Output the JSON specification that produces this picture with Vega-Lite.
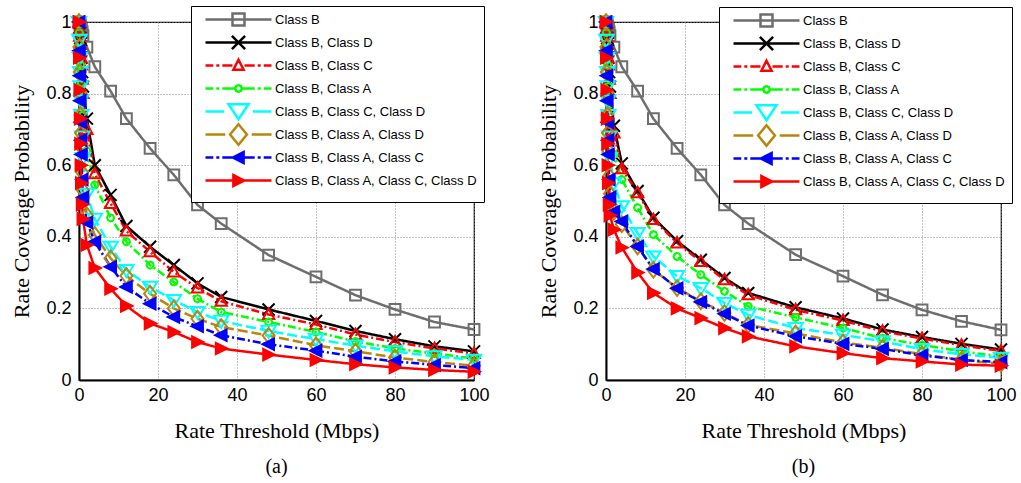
{
 "$schema": "https://vega.github.io/schema/vega-lite/v6.json",
 "background": "white",
 "padding": {"left": 10, "top": 4, "right": 0, "bottom": 0},
 "spacing": 132,
 "bounds": "flush",
 "resolve": {"scale": {"stroke": "independent", "shape": "independent", "strokeDash": "independent", "fill": "independent"}, "legend": {"stroke": "independent", "shape": "independent", "strokeDash": "independent", "fill": "independent"}},
 "datasets": {
  "a": [
   {"series":"Class B","x":0,"y":1},{"series":"Class B","x":0.1,"y":0.998},{"series":"Class B","x":0.2,"y":0.995},{"series":"Class B","x":0.3,"y":0.992},{"series":"Class B","x":0.4,"y":0.988},{"series":"Class B","x":0.5,"y":0.984},{"series":"Class B","x":0.6,"y":0.98},{"series":"Class B","x":0.8,"y":0.972},{"series":"Class B","x":1,"y":0.962},{"series":"Class B","x":2,"y":0.93},{"series":"Class B","x":4,"y":0.875},{"series":"Class B","x":8,"y":0.807},{"series":"Class B","x":12,"y":0.73},{"series":"Class B","x":18,"y":0.647},{"series":"Class B","x":24,"y":0.573},{"series":"Class B","x":30,"y":0.489},{"series":"Class B","x":36,"y":0.437},{"series":"Class B","x":48,"y":0.349},{"series":"Class B","x":60,"y":0.288},{"series":"Class B","x":70,"y":0.237},{"series":"Class B","x":80,"y":0.197},{"series":"Class B","x":90,"y":0.162},{"series":"Class B","x":100,"y":0.141},
   {"series":"Class B, Class D","x":0,"y":1},{"series":"Class B, Class D","x":0.1,"y":0.985},{"series":"Class B, Class D","x":0.2,"y":0.97},{"series":"Class B, Class D","x":0.3,"y":0.955},{"series":"Class B, Class D","x":0.4,"y":0.94},{"series":"Class B, Class D","x":0.5,"y":0.92},{"series":"Class B, Class D","x":0.6,"y":0.9},{"series":"Class B, Class D","x":0.8,"y":0.86},{"series":"Class B, Class D","x":1,"y":0.82},{"series":"Class B, Class D","x":2,"y":0.73},{"series":"Class B, Class D","x":4,"y":0.6},{"series":"Class B, Class D","x":8,"y":0.517},{"series":"Class B, Class D","x":12,"y":0.43},{"series":"Class B, Class D","x":18,"y":0.372},{"series":"Class B, Class D","x":24,"y":0.321},{"series":"Class B, Class D","x":30,"y":0.27},{"series":"Class B, Class D","x":36,"y":0.232},{"series":"Class B, Class D","x":48,"y":0.197},{"series":"Class B, Class D","x":60,"y":0.165},{"series":"Class B, Class D","x":70,"y":0.137},{"series":"Class B, Class D","x":80,"y":0.114},{"series":"Class B, Class D","x":90,"y":0.094},{"series":"Class B, Class D","x":100,"y":0.08},
   {"series":"Class B, Class C","x":0,"y":1},{"series":"Class B, Class C","x":0.1,"y":0.98},{"series":"Class B, Class C","x":0.2,"y":0.96},{"series":"Class B, Class C","x":0.3,"y":0.94},{"series":"Class B, Class C","x":0.4,"y":0.92},{"series":"Class B, Class C","x":0.5,"y":0.9},{"series":"Class B, Class C","x":0.6,"y":0.88},{"series":"Class B, Class C","x":0.8,"y":0.84},{"series":"Class B, Class C","x":1,"y":0.8},{"series":"Class B, Class C","x":2,"y":0.7},{"series":"Class B, Class C","x":4,"y":0.576},{"series":"Class B, Class C","x":8,"y":0.493},{"series":"Class B, Class C","x":12,"y":0.416},{"series":"Class B, Class C","x":18,"y":0.358},{"series":"Class B, Class C","x":24,"y":0.302},{"series":"Class B, Class C","x":30,"y":0.257},{"series":"Class B, Class C","x":36,"y":0.22},{"series":"Class B, Class C","x":48,"y":0.183},{"series":"Class B, Class C","x":60,"y":0.155},{"series":"Class B, Class C","x":70,"y":0.127},{"series":"Class B, Class C","x":80,"y":0.106},{"series":"Class B, Class C","x":90,"y":0.088},{"series":"Class B, Class C","x":100,"y":0.074},
   {"series":"Class B, Class A","x":0,"y":1},{"series":"Class B, Class A","x":0.1,"y":0.97},{"series":"Class B, Class A","x":0.2,"y":0.94},{"series":"Class B, Class A","x":0.3,"y":0.91},{"series":"Class B, Class A","x":0.4,"y":0.88},{"series":"Class B, Class A","x":0.5,"y":0.86},{"series":"Class B, Class A","x":0.6,"y":0.83},{"series":"Class B, Class A","x":0.8,"y":0.78},{"series":"Class B, Class A","x":1,"y":0.74},{"series":"Class B, Class A","x":2,"y":0.64},{"series":"Class B, Class A","x":4,"y":0.545},{"series":"Class B, Class A","x":8,"y":0.453},{"series":"Class B, Class A","x":12,"y":0.386},{"series":"Class B, Class A","x":18,"y":0.321},{"series":"Class B, Class A","x":24,"y":0.274},{"series":"Class B, Class A","x":30,"y":0.227},{"series":"Class B, Class A","x":36,"y":0.19},{"series":"Class B, Class A","x":48,"y":0.162},{"series":"Class B, Class A","x":60,"y":0.134},{"series":"Class B, Class A","x":70,"y":0.108},{"series":"Class B, Class A","x":80,"y":0.088},{"series":"Class B, Class A","x":90,"y":0.074},{"series":"Class B, Class A","x":100,"y":0.06},
   {"series":"Class B, Class C, Class D","x":0,"y":1},{"series":"Class B, Class C, Class D","x":0.1,"y":0.95},{"series":"Class B, Class C, Class D","x":0.2,"y":0.9},{"series":"Class B, Class C, Class D","x":0.3,"y":0.86},{"series":"Class B, Class C, Class D","x":0.4,"y":0.82},{"series":"Class B, Class C, Class D","x":0.5,"y":0.78},{"series":"Class B, Class C, Class D","x":0.6,"y":0.74},{"series":"Class B, Class C, Class D","x":0.8,"y":0.68},{"series":"Class B, Class C, Class D","x":1,"y":0.62},{"series":"Class B, Class C, Class D","x":2,"y":0.52},{"series":"Class B, Class C, Class D","x":4,"y":0.45},{"series":"Class B, Class C, Class D","x":8,"y":0.372},{"series":"Class B, Class C, Class D","x":12,"y":0.307},{"series":"Class B, Class C, Class D","x":18,"y":0.26},{"series":"Class B, Class C, Class D","x":24,"y":0.223},{"series":"Class B, Class C, Class D","x":30,"y":0.19},{"series":"Class B, Class C, Class D","x":36,"y":0.165},{"series":"Class B, Class C, Class D","x":48,"y":0.137},{"series":"Class B, Class C, Class D","x":60,"y":0.114},{"series":"Class B, Class C, Class D","x":70,"y":0.096},{"series":"Class B, Class C, Class D","x":80,"y":0.08},{"series":"Class B, Class C, Class D","x":90,"y":0.066},{"series":"Class B, Class C, Class D","x":100,"y":0.056},
   {"series":"Class B, Class A, Class D","x":0,"y":1},{"series":"Class B, Class A, Class D","x":0.1,"y":0.93},{"series":"Class B, Class A, Class D","x":0.2,"y":0.86},{"series":"Class B, Class A, Class D","x":0.3,"y":0.8},{"series":"Class B, Class A, Class D","x":0.4,"y":0.74},{"series":"Class B, Class A, Class D","x":0.5,"y":0.69},{"series":"Class B, Class A, Class D","x":0.6,"y":0.65},{"series":"Class B, Class A, Class D","x":0.8,"y":0.58},{"series":"Class B, Class A, Class D","x":1,"y":0.53},{"series":"Class B, Class A, Class D","x":2,"y":0.46},{"series":"Class B, Class A, Class D","x":4,"y":0.405},{"series":"Class B, Class A, Class D","x":8,"y":0.34},{"series":"Class B, Class A, Class D","x":12,"y":0.291},{"series":"Class B, Class A, Class D","x":18,"y":0.241},{"series":"Class B, Class A, Class D","x":24,"y":0.2},{"series":"Class B, Class A, Class D","x":30,"y":0.171},{"series":"Class B, Class A, Class D","x":36,"y":0.148},{"series":"Class B, Class A, Class D","x":48,"y":0.124},{"series":"Class B, Class A, Class D","x":60,"y":0.097},{"series":"Class B, Class A, Class D","x":70,"y":0.08},{"series":"Class B, Class A, Class D","x":80,"y":0.063},{"series":"Class B, Class A, Class D","x":90,"y":0.05},{"series":"Class B, Class A, Class D","x":100,"y":0.04},
   {"series":"Class B, Class A, Class C","x":0,"y":1},{"series":"Class B, Class A, Class C","x":0.1,"y":0.92},{"series":"Class B, Class A, Class C","x":0.2,"y":0.85},{"series":"Class B, Class A, Class C","x":0.3,"y":0.78},{"series":"Class B, Class A, Class C","x":0.4,"y":0.72},{"series":"Class B, Class A, Class C","x":0.5,"y":0.67},{"series":"Class B, Class A, Class C","x":0.6,"y":0.63},{"series":"Class B, Class A, Class C","x":0.8,"y":0.56},{"series":"Class B, Class A, Class C","x":1,"y":0.51},{"series":"Class B, Class A, Class C","x":2,"y":0.44},{"series":"Class B, Class A, Class C","x":4,"y":0.386},{"series":"Class B, Class A, Class C","x":8,"y":0.316},{"series":"Class B, Class A, Class C","x":12,"y":0.26},{"series":"Class B, Class A, Class C","x":18,"y":0.213},{"series":"Class B, Class A, Class C","x":24,"y":0.176},{"series":"Class B, Class A, Class C","x":30,"y":0.15},{"series":"Class B, Class A, Class C","x":36,"y":0.125},{"series":"Class B, Class A, Class C","x":48,"y":0.1},{"series":"Class B, Class A, Class C","x":60,"y":0.082},{"series":"Class B, Class A, Class C","x":70,"y":0.065},{"series":"Class B, Class A, Class C","x":80,"y":0.052},{"series":"Class B, Class A, Class C","x":90,"y":0.042},{"series":"Class B, Class A, Class C","x":100,"y":0.033},
   {"series":"Class B, Class A, Class C, Class D","x":0,"y":1},{"series":"Class B, Class A, Class C, Class D","x":0.1,"y":0.9},{"series":"Class B, Class A, Class C, Class D","x":0.2,"y":0.81},{"series":"Class B, Class A, Class C, Class D","x":0.3,"y":0.73},{"series":"Class B, Class A, Class C, Class D","x":0.4,"y":0.66},{"series":"Class B, Class A, Class C, Class D","x":0.5,"y":0.6},{"series":"Class B, Class A, Class C, Class D","x":0.6,"y":0.55},{"series":"Class B, Class A, Class C, Class D","x":0.8,"y":0.49},{"series":"Class B, Class A, Class C, Class D","x":1,"y":0.45},{"series":"Class B, Class A, Class C, Class D","x":2,"y":0.377},{"series":"Class B, Class A, Class C, Class D","x":4,"y":0.313},{"series":"Class B, Class A, Class C, Class D","x":8,"y":0.255},{"series":"Class B, Class A, Class C, Class D","x":12,"y":0.207},{"series":"Class B, Class A, Class C, Class D","x":18,"y":0.158},{"series":"Class B, Class A, Class C, Class D","x":24,"y":0.134},{"series":"Class B, Class A, Class C, Class D","x":30,"y":0.106},{"series":"Class B, Class A, Class C, Class D","x":36,"y":0.088},{"series":"Class B, Class A, Class C, Class D","x":48,"y":0.071},{"series":"Class B, Class A, Class C, Class D","x":60,"y":0.056},{"series":"Class B, Class A, Class C, Class D","x":70,"y":0.044},{"series":"Class B, Class A, Class C, Class D","x":80,"y":0.035},{"series":"Class B, Class A, Class C, Class D","x":90,"y":0.028},{"series":"Class B, Class A, Class C, Class D","x":100,"y":0.023}
  ],
  "b": [
   {"series":"Class B","x":0,"y":1},{"series":"Class B","x":0.1,"y":0.998},{"series":"Class B","x":0.2,"y":0.995},{"series":"Class B","x":0.3,"y":0.992},{"series":"Class B","x":0.4,"y":0.988},{"series":"Class B","x":0.5,"y":0.984},{"series":"Class B","x":0.6,"y":0.98},{"series":"Class B","x":0.8,"y":0.972},{"series":"Class B","x":1,"y":0.962},{"series":"Class B","x":2,"y":0.93},{"series":"Class B","x":4,"y":0.875},{"series":"Class B","x":8,"y":0.807},{"series":"Class B","x":12,"y":0.73},{"series":"Class B","x":18,"y":0.647},{"series":"Class B","x":24,"y":0.573},{"series":"Class B","x":30,"y":0.489},{"series":"Class B","x":36,"y":0.437},{"series":"Class B","x":48,"y":0.35},{"series":"Class B","x":60,"y":0.29},{"series":"Class B","x":70,"y":0.238},{"series":"Class B","x":80,"y":0.196},{"series":"Class B","x":90,"y":0.164},{"series":"Class B","x":100,"y":0.14},
   {"series":"Class B, Class D","x":0,"y":1},{"series":"Class B, Class D","x":0.1,"y":0.985},{"series":"Class B, Class D","x":0.2,"y":0.97},{"series":"Class B, Class D","x":0.3,"y":0.955},{"series":"Class B, Class D","x":0.4,"y":0.94},{"series":"Class B, Class D","x":0.5,"y":0.92},{"series":"Class B, Class D","x":0.6,"y":0.9},{"series":"Class B, Class D","x":0.8,"y":0.86},{"series":"Class B, Class D","x":1,"y":0.82},{"series":"Class B, Class D","x":2,"y":0.71},{"series":"Class B, Class D","x":4,"y":0.605},{"series":"Class B, Class D","x":8,"y":0.528},{"series":"Class B, Class D","x":12,"y":0.453},{"series":"Class B, Class D","x":18,"y":0.388},{"series":"Class B, Class D","x":24,"y":0.336},{"series":"Class B, Class D","x":30,"y":0.285},{"series":"Class B, Class D","x":36,"y":0.243},{"series":"Class B, Class D","x":48,"y":0.203},{"series":"Class B, Class D","x":60,"y":0.172},{"series":"Class B, Class D","x":70,"y":0.141},{"series":"Class B, Class D","x":80,"y":0.12},{"series":"Class B, Class D","x":90,"y":0.101},{"series":"Class B, Class D","x":100,"y":0.085},
   {"series":"Class B, Class C","x":0,"y":1},{"series":"Class B, Class C","x":0.1,"y":0.98},{"series":"Class B, Class C","x":0.2,"y":0.96},{"series":"Class B, Class C","x":0.3,"y":0.94},{"series":"Class B, Class C","x":0.4,"y":0.92},{"series":"Class B, Class C","x":0.5,"y":0.9},{"series":"Class B, Class C","x":0.6,"y":0.88},{"series":"Class B, Class C","x":0.8,"y":0.84},{"series":"Class B, Class C","x":1,"y":0.8},{"series":"Class B, Class C","x":2,"y":0.69},{"series":"Class B, Class C","x":4,"y":0.59},{"series":"Class B, Class C","x":8,"y":0.523},{"series":"Class B, Class C","x":12,"y":0.448},{"series":"Class B, Class C","x":18,"y":0.383},{"series":"Class B, Class C","x":24,"y":0.331},{"series":"Class B, Class C","x":30,"y":0.28},{"series":"Class B, Class C","x":36,"y":0.238},{"series":"Class B, Class C","x":48,"y":0.196},{"series":"Class B, Class C","x":60,"y":0.166},{"series":"Class B, Class C","x":70,"y":0.136},{"series":"Class B, Class C","x":80,"y":0.116},{"series":"Class B, Class C","x":90,"y":0.097},{"series":"Class B, Class C","x":100,"y":0.081},
   {"series":"Class B, Class A","x":0,"y":1},{"series":"Class B, Class A","x":0.1,"y":0.97},{"series":"Class B, Class A","x":0.2,"y":0.94},{"series":"Class B, Class A","x":0.3,"y":0.91},{"series":"Class B, Class A","x":0.4,"y":0.88},{"series":"Class B, Class A","x":0.5,"y":0.85},{"series":"Class B, Class A","x":0.6,"y":0.82},{"series":"Class B, Class A","x":0.8,"y":0.77},{"series":"Class B, Class A","x":1,"y":0.72},{"series":"Class B, Class A","x":2,"y":0.63},{"series":"Class B, Class A","x":4,"y":0.56},{"series":"Class B, Class A","x":8,"y":0.481},{"series":"Class B, Class A","x":12,"y":0.406},{"series":"Class B, Class A","x":18,"y":0.345},{"series":"Class B, Class A","x":24,"y":0.294},{"series":"Class B, Class A","x":30,"y":0.248},{"series":"Class B, Class A","x":36,"y":0.206},{"series":"Class B, Class A","x":48,"y":0.175},{"series":"Class B, Class A","x":60,"y":0.145},{"series":"Class B, Class A","x":70,"y":0.117},{"series":"Class B, Class A","x":80,"y":0.098},{"series":"Class B, Class A","x":90,"y":0.08},{"series":"Class B, Class A","x":100,"y":0.066},
   {"series":"Class B, Class C, Class D","x":0,"y":1},{"series":"Class B, Class C, Class D","x":0.1,"y":0.95},{"series":"Class B, Class C, Class D","x":0.2,"y":0.9},{"series":"Class B, Class C, Class D","x":0.3,"y":0.86},{"series":"Class B, Class C, Class D","x":0.4,"y":0.82},{"series":"Class B, Class C, Class D","x":0.5,"y":0.78},{"series":"Class B, Class C, Class D","x":0.6,"y":0.74},{"series":"Class B, Class C, Class D","x":0.8,"y":0.68},{"series":"Class B, Class C, Class D","x":1,"y":0.62},{"series":"Class B, Class C, Class D","x":2,"y":0.55},{"series":"Class B, Class C, Class D","x":4,"y":0.485},{"series":"Class B, Class C, Class D","x":8,"y":0.41},{"series":"Class B, Class C, Class D","x":12,"y":0.345},{"series":"Class B, Class C, Class D","x":18,"y":0.29},{"series":"Class B, Class C, Class D","x":24,"y":0.257},{"series":"Class B, Class C, Class D","x":30,"y":0.215},{"series":"Class B, Class C, Class D","x":36,"y":0.182},{"series":"Class B, Class C, Class D","x":48,"y":0.145},{"series":"Class B, Class C, Class D","x":60,"y":0.126},{"series":"Class B, Class C, Class D","x":70,"y":0.108},{"series":"Class B, Class C, Class D","x":80,"y":0.086},{"series":"Class B, Class C, Class D","x":90,"y":0.072},{"series":"Class B, Class C, Class D","x":100,"y":0.062},
   {"series":"Class B, Class A, Class D","x":0,"y":1},{"series":"Class B, Class A, Class D","x":0.1,"y":0.93},{"series":"Class B, Class A, Class D","x":0.2,"y":0.86},{"series":"Class B, Class A, Class D","x":0.3,"y":0.8},{"series":"Class B, Class A, Class D","x":0.4,"y":0.74},{"series":"Class B, Class A, Class D","x":0.5,"y":0.69},{"series":"Class B, Class A, Class D","x":0.6,"y":0.64},{"series":"Class B, Class A, Class D","x":0.8,"y":0.57},{"series":"Class B, Class A, Class D","x":1,"y":0.52},{"series":"Class B, Class A, Class D","x":2,"y":0.47},{"series":"Class B, Class A, Class D","x":4,"y":0.435},{"series":"Class B, Class A, Class D","x":8,"y":0.373},{"series":"Class B, Class A, Class D","x":12,"y":0.308},{"series":"Class B, Class A, Class D","x":18,"y":0.257},{"series":"Class B, Class A, Class D","x":24,"y":0.22},{"series":"Class B, Class A, Class D","x":30,"y":0.187},{"series":"Class B, Class A, Class D","x":36,"y":0.154},{"series":"Class B, Class A, Class D","x":48,"y":0.13},{"series":"Class B, Class A, Class D","x":60,"y":0.105},{"series":"Class B, Class A, Class D","x":70,"y":0.09},{"series":"Class B, Class A, Class D","x":80,"y":0.072},{"series":"Class B, Class A, Class D","x":90,"y":0.056},{"series":"Class B, Class A, Class D","x":100,"y":0.045},
   {"series":"Class B, Class A, Class C","x":0,"y":1},{"series":"Class B, Class A, Class C","x":0.1,"y":0.92},{"series":"Class B, Class A, Class C","x":0.2,"y":0.85},{"series":"Class B, Class A, Class C","x":0.3,"y":0.78},{"series":"Class B, Class A, Class C","x":0.4,"y":0.72},{"series":"Class B, Class A, Class C","x":0.5,"y":0.67},{"series":"Class B, Class A, Class C","x":0.6,"y":0.63},{"series":"Class B, Class A, Class C","x":0.8,"y":0.56},{"series":"Class B, Class A, Class C","x":1,"y":0.51},{"series":"Class B, Class A, Class C","x":2,"y":0.47},{"series":"Class B, Class A, Class C","x":4,"y":0.443},{"series":"Class B, Class A, Class C","x":8,"y":0.373},{"series":"Class B, Class A, Class C","x":12,"y":0.31},{"series":"Class B, Class A, Class C","x":18,"y":0.256},{"series":"Class B, Class A, Class C","x":24,"y":0.218},{"series":"Class B, Class A, Class C","x":30,"y":0.185},{"series":"Class B, Class A, Class C","x":36,"y":0.152},{"series":"Class B, Class A, Class C","x":48,"y":0.122},{"series":"Class B, Class A, Class C","x":60,"y":0.101},{"series":"Class B, Class A, Class C","x":70,"y":0.087},{"series":"Class B, Class A, Class C","x":80,"y":0.069},{"series":"Class B, Class A, Class C","x":90,"y":0.056},{"series":"Class B, Class A, Class C","x":100,"y":0.05},
   {"series":"Class B, Class A, Class C, Class D","x":0,"y":1},{"series":"Class B, Class A, Class C, Class D","x":0.1,"y":0.9},{"series":"Class B, Class A, Class C, Class D","x":0.2,"y":0.81},{"series":"Class B, Class A, Class C, Class D","x":0.3,"y":0.73},{"series":"Class B, Class A, Class C, Class D","x":0.4,"y":0.66},{"series":"Class B, Class A, Class C, Class D","x":0.5,"y":0.6},{"series":"Class B, Class A, Class C, Class D","x":0.6,"y":0.55},{"series":"Class B, Class A, Class C, Class D","x":0.8,"y":0.49},{"series":"Class B, Class A, Class C, Class D","x":1,"y":0.46},{"series":"Class B, Class A, Class C, Class D","x":2,"y":0.42},{"series":"Class B, Class A, Class C, Class D","x":4,"y":0.37},{"series":"Class B, Class A, Class C, Class D","x":8,"y":0.3},{"series":"Class B, Class A, Class C, Class D","x":12,"y":0.243},{"series":"Class B, Class A, Class C, Class D","x":18,"y":0.2},{"series":"Class B, Class A, Class C, Class D","x":24,"y":0.173},{"series":"Class B, Class A, Class C, Class D","x":30,"y":0.145},{"series":"Class B, Class A, Class C, Class D","x":36,"y":0.122},{"series":"Class B, Class A, Class C, Class D","x":48,"y":0.094},{"series":"Class B, Class A, Class C, Class D","x":60,"y":0.075},{"series":"Class B, Class A, Class C, Class D","x":70,"y":0.061},{"series":"Class B, Class A, Class C, Class D","x":80,"y":0.052},{"series":"Class B, Class A, Class C, Class D","x":90,"y":0.043},{"series":"Class B, Class A, Class C, Class D","x":100,"y":0.04}
  ]
 },
 "hconcat": [
  {
   "width": 395, "height": 358,
   "data": {"name": "a"},
   "title": {"text": "(a)", "orient": "bottom", "offset": 16},
   "encoding": {
    "x": {"field": "x", "type": "quantitative", "scale": {"domain": [0, 100], "nice": false, "zero": false}, "axis": {"values": [0, 20, 40, 60, 80, 100], "title": "Rate Threshold (Mbps)"}},
    "y": {"field": "y", "type": "quantitative", "scale": {"domain": [0, 1], "nice": false}, "axis": {"values": [0, 0.2, 0.4, 0.6, 0.8, 1], "format": "~g", "title": "Rate Coverage Probability"}},
    "stroke": {"field": "series", "type": "nominal", "sort": null,
     "scale": {"domain": ["Class B", "Class B, Class D", "Class B, Class C", "Class B, Class A", "Class B, Class C, Class D", "Class B, Class A, Class D", "Class B, Class A, Class C", "Class B, Class A, Class C, Class D"], "range": ["#6e6e6e", "#000000", "#ff0000", "#00ff00", "#00ffff", "#b8860b", "#0000ff", "#ff0000"]},
     "legend": {"orient": "none", "legendX": 112, "legendY": -16, "title": null, "direction": "vertical", "padding": 6, "symbolSize": 144, "symbolOffset": 34, "labelOffset": 29, "rowPadding": -12, "labelFont": "Liberation Sans", "labelFontSize": 13, "labelColor": "black", "labelLimit": 400, "strokeColor": "black", "fillColor": "white", "symbolStrokeWidth": 2.5,
      "encode": {"symbols": {"update": {
       "shape": {"signal": "datum.value === 'Class B' ? 'M-5.5,0H5.5M-1,-1H1V1H-1ZM0,-1.7V-1.7M0,1.7V1.7' : datum.value === 'Class B, Class D' ? 'M-5.5,0H5.5M-1.1,-1.1L1.1,1.1M-1.1,1.1L1.1,-1.1M0,-1.7V-1.7M0,1.7V1.7' : datum.value === 'Class B, Class C' ? 'M-5.5,0H-4.2M-3.7,0H-3.2M-2.7,0H-1M1,0H2.7M3.2,0H3.7M4.2,0H5.5M0,-0.95L0.85,0.7H-0.85ZM0,-1.7V-1.7M0,1.7V1.7' : datum.value === 'Class B, Class A' ? 'M-5.5,0H-4.2M-3.7,0H-3.2M-2.7,0H-0.6M0.6,0H2.7M3.2,0H3.7M4.2,0H5.5M0.55,0L0.39,0.39L0,0.55L-0.39,0.39L-0.55,0L-0.39,-0.39L0,-0.55L0.39,-0.39ZM0,-1.7V-1.7M0,1.7V1.7' : datum.value === 'Class B, Class C, Class D' ? 'M-5.5,0H-2.4M2.4,0H5.5M-1.67,-1.2H1.67L0,1.3ZM0,-1.7V-1.7M0,1.7V1.7' : datum.value === 'Class B, Class A, Class D' ? 'M-5.5,0H-2.2M2.2,0H5.5M0,-1.7L1.4,0L0,1.7L-1.4,0Z' : datum.value === 'Class B, Class A, Class C' ? 'M-5.5,0H-4.2M-3.7,0H-3.2M-2.7,0H-1M1,0H2.7M3.2,0H3.7M4.2,0H5.5M-0.95,0L0.85,-0.9V0.9ZM0,-1.7V-1.7M0,1.7V1.7' : 'M-5.5,0H5.5M0.95,0L-0.85,-0.9V0.9ZM0,-1.7V-1.7M0,1.7V1.7'"}
      }}}
     }
    }
   },
   "layer": [
    {"mark": {"type": "line", "strokeWidth": 2.5},
     "encoding": {"strokeDash": {"field": "series", "type": "nominal", "scale": {"domain": ["Class B, Class A, Class C, Class D", "Class B, Class A, Class C", "Class B, Class A, Class D", "Class B, Class C, Class D", "Class B, Class A", "Class B, Class C", "Class B, Class D", "Class B"], "range": [[1, 0], [8, 3, 2, 3], [10, 4], [10, 4], [8, 3, 2, 3], [8, 3, 2, 3], [1, 0], [1, 0]]}, "legend": null}}},
    {"mark": {"type": "point", "size": 144, "strokeWidth": 2, "opacity": 1},
     "encoding": {
      "shape": {"field": "series", "type": "nominal", "scale": {"domain": ["Class B, Class A, Class C, Class D", "Class B, Class A, Class C", "Class B, Class A, Class D", "Class B, Class C, Class D", "Class B, Class A", "Class B, Class C", "Class B, Class D", "Class B"], "range": ["M1,0L-0.9,-0.95V0.95Z", "M-1,0L0.9,-0.95V0.95Z", "M0,-1.3L1,0L0,1.3L-1,0Z", "M-1.2,-0.85H1.2L0,1.15Z", "M0.6,0L0.42,0.42L0,0.6L-0.42,0.42L-0.6,0L-0.42,-0.42L0,-0.6L0.42,-0.42Z", "M0,-1L0.95,0.75H-0.95Z", "M-1,-1L1,1M-1,1L1,-1", "M-0.9,-0.9H0.9V0.9H-0.9Z"]}, "legend": null},
      "fill": {"field": "series", "type": "nominal", "scale": {"domain": ["Class B", "Class B, Class D", "Class B, Class C", "Class B, Class A", "Class B, Class C, Class D", "Class B, Class A, Class D", "Class B, Class A, Class C", "Class B, Class A, Class C, Class D"], "range": ["transparent", "transparent", "transparent", "transparent", "transparent", "transparent", "#0000ff", "#ff0000"]}, "legend": null}
     }}
   ]
  },
  {
   "width": 395, "height": 358,
   "data": {"name": "b"},
   "title": {"text": "(b)", "orient": "bottom", "offset": 16},
   "encoding": {
    "x": {"field": "x", "type": "quantitative", "scale": {"domain": [0, 100], "nice": false, "zero": false}, "axis": {"values": [0, 20, 40, 60, 80, 100], "title": "Rate Threshold (Mbps)"}},
    "y": {"field": "y", "type": "quantitative", "scale": {"domain": [0, 1], "nice": false}, "axis": {"values": [0, 0.2, 0.4, 0.6, 0.8, 1], "format": "~g", "title": "Rate Coverage Probability"}},
    "stroke": {"field": "series", "type": "nominal", "sort": null,
     "scale": {"domain": ["Class B", "Class B, Class D", "Class B, Class C", "Class B, Class A", "Class B, Class C, Class D", "Class B, Class A, Class D", "Class B, Class A, Class C", "Class B, Class A, Class C, Class D"], "range": ["#6e6e6e", "#000000", "#ff0000", "#00ff00", "#00ffff", "#b8860b", "#0000ff", "#ff0000"]},
     "legend": {"orient": "none", "legendX": 113, "legendY": -15, "title": null, "direction": "vertical", "padding": 6, "symbolSize": 144, "symbolOffset": 34, "labelOffset": 29, "rowPadding": -12, "labelFont": "Liberation Sans", "labelFontSize": 13, "labelColor": "black", "labelLimit": 400, "strokeColor": "black", "fillColor": "white", "symbolStrokeWidth": 2.5,
      "encode": {"symbols": {"update": {
       "shape": {"signal": "datum.value === 'Class B' ? 'M-5.5,0H5.5M-1,-1H1V1H-1ZM0,-1.7V-1.7M0,1.7V1.7' : datum.value === 'Class B, Class D' ? 'M-5.5,0H5.5M-1.1,-1.1L1.1,1.1M-1.1,1.1L1.1,-1.1M0,-1.7V-1.7M0,1.7V1.7' : datum.value === 'Class B, Class C' ? 'M-5.5,0H-4.2M-3.7,0H-3.2M-2.7,0H-1M1,0H2.7M3.2,0H3.7M4.2,0H5.5M0,-0.95L0.85,0.7H-0.85ZM0,-1.7V-1.7M0,1.7V1.7' : datum.value === 'Class B, Class A' ? 'M-5.5,0H-4.2M-3.7,0H-3.2M-2.7,0H-0.6M0.6,0H2.7M3.2,0H3.7M4.2,0H5.5M0.55,0L0.39,0.39L0,0.55L-0.39,0.39L-0.55,0L-0.39,-0.39L0,-0.55L0.39,-0.39ZM0,-1.7V-1.7M0,1.7V1.7' : datum.value === 'Class B, Class C, Class D' ? 'M-5.5,0H-2.4M2.4,0H5.5M-1.67,-1.2H1.67L0,1.3ZM0,-1.7V-1.7M0,1.7V1.7' : datum.value === 'Class B, Class A, Class D' ? 'M-5.5,0H-2.2M2.2,0H5.5M0,-1.7L1.4,0L0,1.7L-1.4,0Z' : datum.value === 'Class B, Class A, Class C' ? 'M-5.5,0H-4.2M-3.7,0H-3.2M-2.7,0H-1M1,0H2.7M3.2,0H3.7M4.2,0H5.5M-0.95,0L0.85,-0.9V0.9ZM0,-1.7V-1.7M0,1.7V1.7' : 'M-5.5,0H5.5M0.95,0L-0.85,-0.9V0.9ZM0,-1.7V-1.7M0,1.7V1.7'"}
      }}}
     }
    }
   },
   "layer": [
    {"mark": {"type": "line", "strokeWidth": 2.5},
     "encoding": {"strokeDash": {"field": "series", "type": "nominal", "scale": {"domain": ["Class B, Class A, Class C, Class D", "Class B, Class A, Class C", "Class B, Class A, Class D", "Class B, Class C, Class D", "Class B, Class A", "Class B, Class C", "Class B, Class D", "Class B"], "range": [[1, 0], [8, 3, 2, 3], [10, 4], [10, 4], [8, 3, 2, 3], [8, 3, 2, 3], [1, 0], [1, 0]]}, "legend": null}}},
    {"mark": {"type": "point", "size": 144, "strokeWidth": 2, "opacity": 1},
     "encoding": {
      "shape": {"field": "series", "type": "nominal", "scale": {"domain": ["Class B, Class A, Class C, Class D", "Class B, Class A, Class C", "Class B, Class A, Class D", "Class B, Class C, Class D", "Class B, Class A", "Class B, Class C", "Class B, Class D", "Class B"], "range": ["M1,0L-0.9,-0.95V0.95Z", "M-1,0L0.9,-0.95V0.95Z", "M0,-1.3L1,0L0,1.3L-1,0Z", "M-1.2,-0.85H1.2L0,1.15Z", "M0.6,0L0.42,0.42L0,0.6L-0.42,0.42L-0.6,0L-0.42,-0.42L0,-0.6L0.42,-0.42Z", "M0,-1L0.95,0.75H-0.95Z", "M-1,-1L1,1M-1,1L1,-1", "M-0.9,-0.9H0.9V0.9H-0.9Z"]}, "legend": null},
      "fill": {"field": "series", "type": "nominal", "scale": {"domain": ["Class B", "Class B, Class D", "Class B, Class C", "Class B, Class A", "Class B, Class C, Class D", "Class B, Class A, Class D", "Class B, Class A, Class C", "Class B, Class A, Class C, Class D"], "range": ["transparent", "transparent", "transparent", "transparent", "transparent", "transparent", "#0000ff", "#ff0000"]}, "legend": null}
     }}
   ]
  }
 ],
 "config": {
  "view": {"stroke": "black", "strokeWidth": 1.2},
  "axis": {"domainColor": "black", "domainWidth": 2, "labelFont": "Liberation Sans", "labelFontSize": 18, "labelColor": "black", "titleFont": "Liberation Serif", "titleFontSize": 22, "titleFontWeight": "normal", "titleColor": "black", "grid": true, "gridColor": "#888888", "gridDash": [1, 2], "gridWidth": 1, "ticks": false, "labelFlush": false, "labelOverlap": false},
  "axisX": {"labelPadding": 6, "titlePadding": 16},
  "axisY": {"labelPadding": 8, "titlePadding": 12},
  "title": {"font": "Liberation Serif", "fontSize": 20, "fontWeight": "normal", "color": "black"}
 }
}
